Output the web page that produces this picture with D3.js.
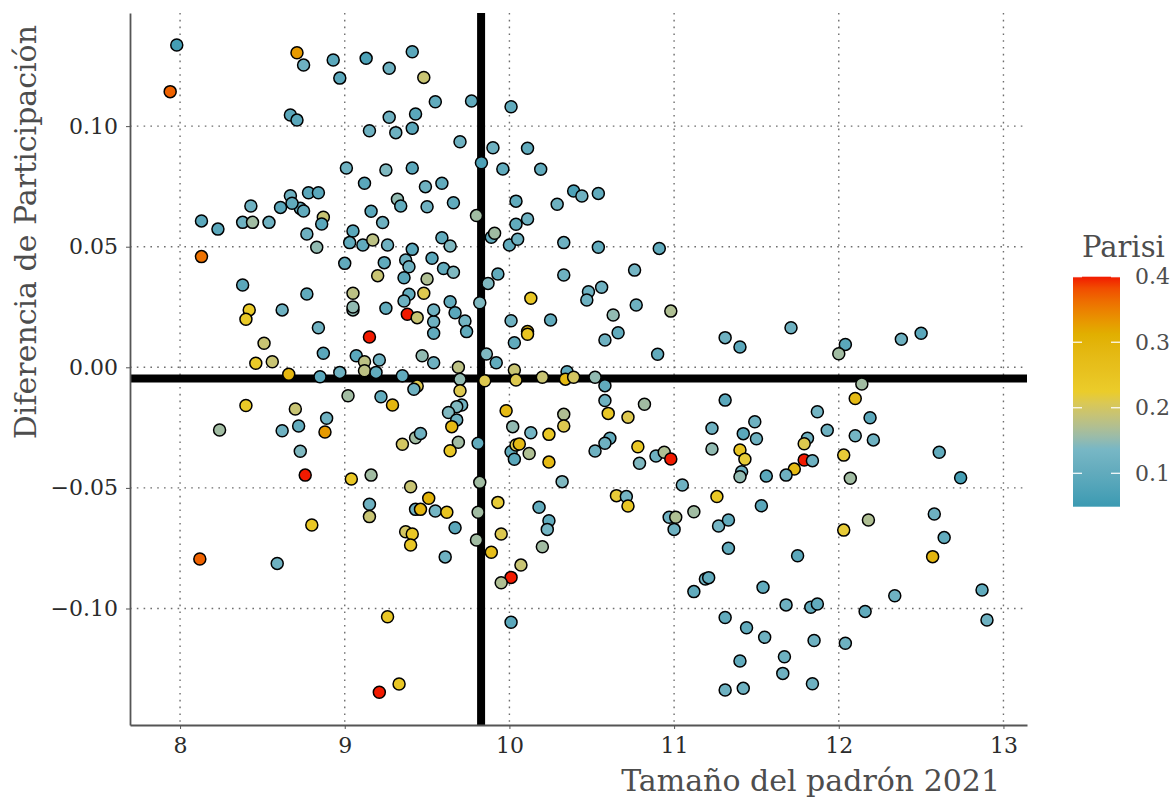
<!DOCTYPE html>
<html>
<head>
<meta charset="utf-8">
<script src="https://cdn.jsdelivr.net/npm/d3@7"></script>
<style>
  body { margin: 0; background: #fff; }
  svg { display: block; }
  text { font-family: "DejaVu Serif", serif; }
</style>
</head>
<body>
<svg id="chart" width="1171" height="800"></svg>
<script>
// Log del tamaño del padrón 2021 por municipio
const padron = [
  7.98, 7.94, 8.71, 8.75, 8.93, 8.97, 9.13, 9.27, 9.41, 9.48,
  8.67, 8.71, 9.15, 9.27, 9.31, 9.43, 9.41, 9.01, 9.25, 9.41,
  9.49, 9.12, 9.32, 9.34, 9.50, 9.16, 9.23, 9.05, 9.03, 9.11,
  9.17, 9.26, 9.41, 8.83, 8.13, 8.23, 8.38, 8.44, 8.54, 8.43,
  8.61, 8.67, 8.73, 8.75, 8.68, 8.78, 8.84, 8.87, 8.86, 8.77,
  9.55, 9.77, 10.01, 9.70, 9.90, 10.11, 9.83, 9.96, 10.19, 9.59,
  9.66, 9.80, 10.04, 10.29, 10.39, 10.44, 10.54, 10.04, 10.11, 9.59,
  9.64, 9.89, 9.91, 10.00, 10.05, 10.33, 10.54, 10.91,
  8.13, 9.00, 9.24, 9.37, 9.39, 9.53, 9.20, 9.36, 9.50, 8.38,
  8.77, 9.05, 9.39, 9.48, 9.36, 8.42, 8.40, 8.62, 9.05, 9.05,
  9.25, 9.38, 9.44, 9.54, 8.84, 9.15, 9.54, 8.51, 8.87, 8.46,
  8.56, 9.07, 9.12, 9.21, 9.12, 9.19, 9.47, 9.54, 8.66, 8.85,
  8.97, 9.35, 9.02, 9.22, 9.29, 9.44, 9.42, 8.40, 8.70, 8.89,
  8.24, 8.62, 8.72, 8.88, 9.43, 9.46, 9.35, 8.73, 8.76, 9.04,
  9.16, 9.40,
  9.60, 9.66, 9.93, 9.87, 9.82, 9.64, 9.67, 9.54, 9.73, 9.74,
  10.13, 10.33, 10.48, 10.56, 10.47, 10.76, 10.63, 10.77, 10.98, 10.01,
  10.25, 10.11, 10.11, 10.03, 10.58, 10.66, 10.90, 11.31, 9.86, 9.92,
  9.69, 9.70, 9.70, 9.85, 10.03, 10.04, 10.20, 10.35, 10.34, 10.39,
  10.52, 10.58, 10.58, 10.60, 10.72, 10.82, 9.71, 9.68, 9.63, 9.68,
  9.65, 9.69, 9.64, 9.81, 9.98, 10.02, 10.13, 10.33, 10.33, 10.24,
  10.01, 10.04, 10.06, 10.12, 10.03, 10.24, 10.61, 10.58, 10.52, 10.78,
  10.79, 10.89, 10.94, 10.98, 11.05, 11.23, 11.23, 11.31, 9.82, 10.32,
  11.40, 11.71, 12.04, 12.00, 12.38, 12.50, 12.14, 12.10, 12.19, 11.87,
  11.49, 11.42, 11.50, 11.93, 12.10, 12.21, 11.81, 11.79, 11.40, 11.43,
  11.79, 11.84, 11.73, 12.03, 12.61, 11.41, 11.40, 11.56, 11.68, 12.07,
  12.74,
  8.12, 8.59, 8.80, 9.15, 9.15, 9.37, 9.41, 9.40, 9.43, 9.46,
  9.51, 9.26, 9.33, 9.21,
  9.55, 9.62, 9.67, 9.61, 9.81, 9.80, 9.93, 9.95, 9.89, 10.07,
  10.01, 9.95, 10.18, 10.24, 10.23, 10.20, 10.01, 10.65, 10.71, 10.72,
  10.97, 11.01, 11.00, 11.12, 11.26, 11.27, 11.33, 11.33, 11.19, 11.21,
  11.12, 11.31, 11.31,
  11.53, 11.75, 11.54, 11.68, 11.83, 11.87, 11.44, 11.55, 11.85, 11.40,
  11.67, 11.66, 11.84, 11.42, 12.03, 12.18, 12.58, 12.64, 12.57, 12.34,
  12.16, 12.04, 12.87, 12.90
];

// Diferencia de participación
const difParticipacion = [
  0.1336, 0.1143, 0.1304, 0.1253, 0.1274, 0.1199, 0.1281, 0.1240, 0.1308, 0.1202,
  0.1046, 0.1025, 0.0981, 0.1037, 0.0973, 0.1050, 0.0991, 0.0826, 0.0818, 0.0826,
  0.0749, 0.0763, 0.0697, 0.0669, 0.0666, 0.0647, 0.0600, 0.0565, 0.0517, 0.0507,
  0.0528, 0.0507, 0.0489, 0.0498, 0.0607, 0.0573, 0.0601, 0.0601, 0.0601, 0.0669,
  0.0663, 0.0711, 0.0659, 0.0648, 0.0680, 0.0724, 0.0724, 0.0622, 0.0594, 0.0553,
  0.1101, 0.1104, 0.1080, 0.0935, 0.0910, 0.0908, 0.0848, 0.0822, 0.0821, 0.0763,
  0.0682, 0.0629, 0.0689, 0.0676, 0.0731, 0.0710, 0.0721, 0.0593, 0.0615, 0.0537,
  0.0503, 0.0539, 0.0556, 0.0507, 0.0531, 0.0517, 0.0498, 0.0493,
  0.0459, 0.0431, 0.0434, 0.0445, 0.0417, 0.0452, 0.0380, 0.0371, 0.0366, 0.0341,
  0.0304, 0.0307, 0.0303, 0.0307, 0.0275, 0.0238, 0.0199, 0.0238, 0.0238, 0.0250,
  0.0245, 0.0220, 0.0206, 0.0189, 0.0164, 0.0126, 0.0141, 0.0100, 0.0058, 0.0017,
  0.0023, 0.0048, 0.0023, 0.0030, -0.0014, -0.0021, 0.0048, 0.0019, -0.0029, -0.0039,
  -0.0021, -0.0035, -0.0118, -0.0122, -0.0156, -0.0078, -0.0091, -0.0158, -0.0173, -0.0211,
  -0.0260, -0.0263, -0.0243, -0.0268, -0.0292, -0.0274, -0.0319, -0.0348, -0.0447, -0.0463,
  -0.0447, -0.0495,
  0.0410, 0.0394, 0.0387, 0.0348, 0.0268, 0.0272, 0.0226, 0.0238, 0.0192, 0.0148,
  0.0286, 0.0383, 0.0313, 0.0332, 0.0279, 0.0403, 0.0217, 0.0258, 0.0233, 0.0193,
  0.0196, 0.0148, 0.0137, 0.0102, 0.0113, 0.0143, 0.0054, 0.0123, 0.0055, 0.0019,
  0.0000, -0.0050, -0.0097, -0.0056, -0.0011, -0.0053, -0.0041, -0.0018, -0.0049, -0.0041,
  -0.0041, -0.0076, -0.0138, -0.0191, -0.0207, -0.0153, -0.0156, -0.0163, -0.0187, -0.0218,
  -0.0246, -0.0311, -0.0346, -0.0315, -0.0180, -0.0246, -0.0271, -0.0195, -0.0243, -0.0278,
  -0.0350, -0.0322, -0.0318, -0.0357, -0.0381, -0.0393, -0.0294, -0.0315, -0.0347, -0.0329,
  -0.0398, -0.0368, -0.0352, -0.0380, -0.0488, -0.0253, -0.0339, -0.0136, -0.0477, -0.0474,
  0.0084, 0.0164, 0.0095, 0.0056, 0.0116, 0.0141, -0.0069, -0.0129, -0.0209, -0.0184,
  -0.0226, -0.0275, -0.0296, -0.0261, -0.0284, -0.0301, -0.0294, -0.0317, -0.0343, -0.0381,
  -0.0384, -0.0387, -0.0422, -0.0364, -0.0352, -0.0433, -0.0454, -0.0451, -0.0447, -0.0460,
  -0.0458,
  -0.0795, -0.0813, -0.0654, -0.0568, -0.0619, -0.0682, -0.0691, -0.0737, -0.0589, -0.0589,
  -0.0543, -0.1034, -0.1313, -0.1347,
  -0.0596, -0.0601, -0.0665, -0.0786, -0.0601, -0.0716, -0.0560, -0.0691, -0.0767, -0.0820,
  -0.0871, -0.0893, -0.0580, -0.0636, -0.0672, -0.0744, -0.1057, -0.0532, -0.0536, -0.0575,
  -0.0622, -0.0622, -0.0672, -0.0599, -0.0536, -0.0658, -0.0633, -0.0750, -0.0878, -0.0872,
  -0.0930, -0.1037, -0.1338,
  -0.0574, -0.0781, -0.0912, -0.0985, -0.0995, -0.0981, -0.1080, -0.1119, -0.1133, -0.1218,
  -0.1200, -0.1269, -0.1312, -0.1331, -0.0675, -0.0633, -0.0608, -0.0706, -0.0785, -0.0947,
  -0.1012, -0.1144, -0.0923, -0.1048
];

// Índice Parisi
const parisi = [
  0.06, 0.37, 0.33, 0.12, 0.09, 0.09, 0.07, 0.12, 0.09, 0.19,
  0.09, 0.09, 0.12, 0.12, 0.12, 0.09, 0.09, 0.12, 0.14, 0.09,
  0.12, 0.09, 0.15, 0.10, 0.12, 0.09, 0.12, 0.09, 0.10, 0.10,
  0.18, 0.12, 0.09, 0.15, 0.09, 0.09, 0.12, 0.16, 0.12, 0.12,
  0.09, 0.12, 0.10, 0.10, 0.10, 0.09, 0.09, 0.19, 0.09, 0.12,
  0.10, 0.10, 0.10, 0.12, 0.12, 0.10, 0.07, 0.10, 0.10, 0.10,
  0.10, 0.16, 0.10, 0.12, 0.07, 0.12, 0.10, 0.10, 0.12, 0.10,
  0.14, 0.10, 0.16, 0.10, 0.12, 0.12, 0.10, 0.10,
  0.36, 0.10, 0.10, 0.12, 0.12, 0.09, 0.19, 0.09, 0.17, 0.09,
  0.10, 0.18, 0.10, 0.21, 0.12, 0.23, 0.23, 0.12, 0.15, 0.15,
  0.10, 0.40, 0.19, 0.12, 0.12, 0.40, 0.10, 0.19, 0.09, 0.23,
  0.19, 0.09, 0.18, 0.12, 0.18, 0.10, 0.15, 0.12, 0.29, 0.09,
  0.12, 0.10, 0.16, 0.10, 0.29, 0.21, 0.12, 0.23, 0.19, 0.12,
  0.16, 0.12, 0.10, 0.33, 0.16, 0.12, 0.20, 0.14, 0.40, 0.24,
  0.16, 0.19,
  0.10, 0.14, 0.10, 0.14, 0.14, 0.10, 0.09, 0.12, 0.13, 0.10,
  0.24, 0.12, 0.12, 0.12, 0.12, 0.13, 0.15, 0.12, 0.17, 0.12,
  0.10, 0.28, 0.25, 0.10, 0.12, 0.10, 0.10, 0.12, 0.14, 0.10,
  0.18, 0.15, 0.21, 0.21, 0.19, 0.21, 0.19, 0.10, 0.28, 0.20,
  0.15, 0.10, 0.12, 0.24, 0.21, 0.16, 0.12, 0.14, 0.14, 0.12,
  0.28, 0.16, 0.24, 0.10, 0.28, 0.15, 0.13, 0.17, 0.21, 0.24,
  0.10, 0.21, 0.28, 0.17, 0.09, 0.28, 0.10, 0.12, 0.12, 0.24,
  0.14, 0.12, 0.17, 0.40, 0.12, 0.12, 0.15, 0.09, 0.16, 0.14,
  0.09, 0.12, 0.09, 0.16, 0.12, 0.09, 0.16, 0.28, 0.09, 0.13,
  0.12, 0.09, 0.12, 0.12, 0.13, 0.12, 0.12, 0.21, 0.25, 0.22,
  0.40, 0.12, 0.28, 0.22, 0.10, 0.12, 0.15, 0.09, 0.12, 0.16,
  0.06,
  0.37, 0.12, 0.24, 0.12, 0.19, 0.20, 0.24, 0.24, 0.12, 0.29,
  0.30, 0.24, 0.24, 0.40,
  0.13, 0.25, 0.09, 0.12, 0.16, 0.16, 0.22, 0.21, 0.27, 0.19,
  0.40, 0.17, 0.10, 0.10, 0.13, 0.16, 0.09, 0.22, 0.13, 0.24,
  0.12, 0.17, 0.12, 0.16, 0.24, 0.13, 0.10, 0.10, 0.12, 0.10,
  0.10, 0.10, 0.12,
  0.09, 0.09, 0.10, 0.12, 0.10, 0.10, 0.10, 0.12, 0.12, 0.10,
  0.12, 0.12, 0.12, 0.12, 0.22, 0.17, 0.12, 0.10, 0.29, 0.12,
  0.10, 0.12, 0.10, 0.12
];

const xTicks = [8, 9, 10, 11, 12, 13];
const yTicks = [-0.10, -0.05, 0.00, 0.05, 0.10];
const parisiTicks = [0.1, 0.2, 0.3, 0.4];
const parisiRange = [0.049, 0.40];

// Valores de referencia (líneas gruesas)
const refPadron = 9.828;
const refDif = -0.0046;

const zissou = ["#3B9AB2", "#78B7C5", "#EBCC2A", "#E1AF00", "#F21A00"];

const svg = d3.select("#chart");
const panel = { left: 130, right: 1027, top: 13, bottom: 725 };

const x = d3.scaleLinear().domain([7.696, 13.143]).range([panel.left, panel.right]);
const y = d3.scaleLinear().domain([-0.1483, 0.1469]).range([panel.bottom, panel.top]);

const stops = zissou.map((_, i) => parisiRange[0] + i * (parisiRange[1] - parisiRange[0]) / (zissou.length - 1));
const color = d3.scaleLinear().domain(stops).range(zissou).interpolate(d3.interpolateLab).clamp(true);

// Rejilla punteada
const grid = svg.append("g");
grid.selectAll("line.gx").data(xTicks).join("line")
  .attr("x1", d => x(d)).attr("x2", d => x(d))
  .attr("y1", panel.top).attr("y2", panel.bottom);
grid.selectAll("line.gy").data(yTicks).join("line")
  .attr("x1", panel.left).attr("x2", panel.right)
  .attr("y1", d => y(d)).attr("y2", d => y(d));
grid.selectAll("line")
  .attr("stroke", "#6e6e6e").attr("stroke-width", 1.4)
  .attr("stroke-dasharray", "1.6,5.2");

// Líneas de referencia
svg.append("line")
  .attr("x1", x(refPadron)).attr("x2", x(refPadron))
  .attr("y1", panel.top).attr("y2", panel.bottom)
  .attr("stroke", "#000").attr("stroke-width", 8);
svg.append("line")
  .attr("x1", panel.left).attr("x2", panel.right)
  .attr("y1", y(refDif)).attr("y2", y(refDif))
  .attr("stroke", "#000").attr("stroke-width", 8);

// Ejes
const xAxis = svg.append("g")
  .attr("transform", `translate(0,${panel.bottom})`)
  .call(d3.axisBottom(x).tickValues(xTicks).tickFormat(d3.format("d")).tickSize(4).tickPadding(8.5).tickSizeOuter(0));
const yAxis = svg.append("g")
  .attr("transform", `translate(${panel.left},0)`)
  .call(d3.axisLeft(y).tickValues(yTicks).tickFormat(d3.format(".2f")).tickSize(4).tickPadding(8).tickSizeOuter(0));
[xAxis, yAxis].forEach(a => {
  a.select(".domain").attr("stroke", "#555").attr("stroke-width", 1.8);
  a.selectAll(".tick line").attr("stroke", "#555").attr("stroke-width", 1);
  a.selectAll(".tick text").attr("fill", "#2b2b2b").attr("font-size", 22)
    .attr("font-family", "DejaVu Serif, serif");
});

// Puntos
const idx = d3.range(padron.length);
svg.append("g").selectAll("circle").data(idx).join("circle")
  .attr("cx", i => x(padron[i]))
  .attr("cy", i => y(difParticipacion[i]))
  .attr("r", 6)
  .attr("fill", i => color(parisi[i]))
  .attr("stroke", "#000").attr("stroke-width", 1.5);

// Títulos de los ejes
svg.append("text")
  .attr("x", 1000).attr("y", 791)
  .attr("text-anchor", "end")
  .attr("font-size", 30).attr("fill", "#4d4d4d")
  .text("Tamaño del padrón 2021");
svg.append("text")
  .attr("transform", "translate(36,25) rotate(-90)")
  .attr("text-anchor", "end")
  .attr("font-size", 30).attr("fill", "#4d4d4d")
  .text("Diferencia de Participación");

// Leyenda de color
const legY = d3.scaleLinear().domain(parisiRange).range([506.7, 276.7]);
const barX = 1073, barW = 47;
const grad = svg.append("defs").append("linearGradient")
  .attr("id", "parisiGrad").attr("x1", 0).attr("x2", 0).attr("y1", 1).attr("y2", 0);
d3.range(0, 1.0001, 0.05).forEach(t => {
  grad.append("stop").attr("offset", t)
    .attr("stop-color", color(parisiRange[0] + t * (parisiRange[1] - parisiRange[0])));
});
svg.append("rect")
  .attr("x", barX).attr("y", legY(parisiRange[1]))
  .attr("width", barW).attr("height", legY(parisiRange[0]) - legY(parisiRange[1]))
  .attr("fill", "url(#parisiGrad)");
const lt = svg.append("g");
parisiTicks.forEach(v => {
  lt.append("line").attr("x1", barX).attr("x2", barX + 9)
    .attr("y1", legY(v)).attr("y2", legY(v));
  lt.append("line").attr("x1", barX + barW - 9).attr("x2", barX + barW)
    .attr("y1", legY(v)).attr("y2", legY(v));
  svg.append("text")
    .attr("x", 1135).attr("y", legY(v)).attr("dy", "0.35em")
    .attr("font-size", 22).attr("fill", "#4d4d4d")
    .text(d3.format(".1f")(v));
});
lt.selectAll("line").attr("stroke", "#fff").attr("stroke-width", 1.2);
svg.append("text")
  .attr("x", 1082).attr("y", 257)
  .attr("font-size", 29).attr("fill", "#4d4d4d")
  .text("Parisi");
</script>
</body>
</html>
